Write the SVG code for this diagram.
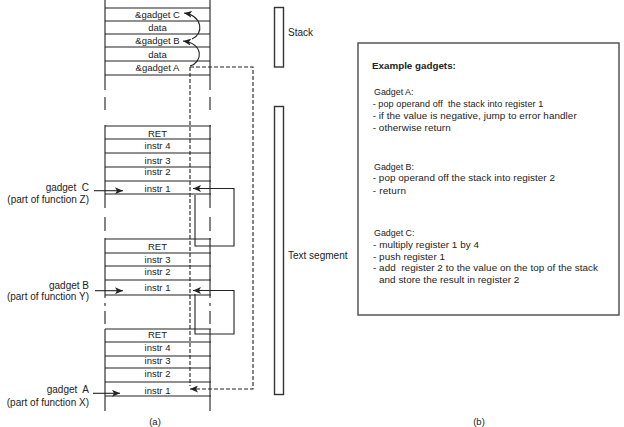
<svg xmlns="http://www.w3.org/2000/svg" width="624" height="427" viewBox="0 0 624 427">
<style>
text{font-family:"Liberation Sans",Arial,sans-serif;fill:#222;white-space:pre;}
.c{font-size:9.5px;text-anchor:middle;}
.l{font-size:10px;text-anchor:end;}
.r{font-size:10px;}
.b{font-size:9.9px;}
.g{font-size:8.9px;}
.bh{font-size:9.8px;font-weight:bold;}
.ln{stroke:#222;stroke-width:1.1;fill:none;}
.row{stroke:#222;stroke-width:1.1;}
.dash{stroke:#222;stroke-width:1.1;fill:none;stroke-dasharray:4 2;}
.bar{fill:#fff;stroke:#333;stroke-width:1.4;}
</style>
<defs>
<marker id="ah" markerUnits="userSpaceOnUse" markerWidth="9" markerHeight="7" refX="8" refY="3.5" orient="auto">
<path d="M0,0 L8,3.5 L0,7 L2,3.5 z" fill="#222"/>
</marker>
</defs>
<rect width="624" height="427" fill="#fff"/>

<g id="stack-column">
<path class="ln" d="M105,0 V90 M210,0 V90 M105,97 V110 M210,97 V110"/>
<path class="row" d="M105,8 H210 M105,21 H210 M105,34 H210 M105,47 H210 M105,61 H210 M105,75 H210"/>
<text class="c" x="157.5" y="18">&amp;gadget C</text>
<text class="c" x="157.5" y="31">data</text>
<text class="c" x="157.5" y="44">&amp;gadget B</text>
<text class="c" x="157.5" y="57.5">data</text>
<text class="c" x="157.5" y="71">&amp;gadget A</text>
</g>

<g id="function-z">
<path class="ln" d="M105,125 V208 M210,125 V208 M105,217 V231 M210,217 V231"/>
<path class="row" d="M105,126 H211 M105,139 H211 M105,153 H211 M105,167 H211 M105,181 H211 M105,194 H211"/>
<text class="c" x="157.5" y="137">RET</text>
<text class="c" x="157.5" y="148.5">instr 4</text>
<text class="c" x="157.5" y="163.5">instr 3</text>
<text class="c" x="157.5" y="175">instr 2</text>
<text class="c" x="157.5" y="191.8">instr 1</text>
</g>

<g id="function-y">
<path class="ln" d="M105,238 V298 M210,238 V298 M105,303 V306 M210,303 V306 M105,311 V324 M210,311 V324"/>
<path class="row" d="M105,239 H211 M105,253 H211 M105,266 H211 M105,280 H211 M105,295 H211"/>
<text class="c" x="157.5" y="250">RET</text>
<text class="c" x="157.5" y="262.8">instr 3</text>
<text class="c" x="157.5" y="275">instr 2</text>
<text class="c" x="157.5" y="291">instr 1</text>
</g>

<g id="function-x">
<path class="ln" d="M105,329 V411 M210,329 V411"/>
<path class="row" d="M105,329 H211 M105,342 H211 M105,356 H211 M105,368 H211 M105,382 H211 M105,396 H211"/>
<text class="c" x="157.5" y="337.5">RET</text>
<text class="c" x="157.5" y="350.8">instr 4</text>
<text class="c" x="157.5" y="363.5">instr 3</text>
<text class="c" x="157.5" y="376.8">instr 2</text>
<text class="c" x="157.5" y="393.5">instr 1</text>
</g>

<g id="label-gadget-c">
<text class="l" x="89" y="190.5">gadget  C</text>
<text class="l" x="89" y="202.5">(part of function Z)</text>
</g>
<g id="label-gadget-b">
<text class="l" x="89" y="288.5">gadget B</text>
<text class="l" x="89" y="299.5">(part of function Y)</text>
</g>
<g id="label-gadget-a">
<text class="l" x="89" y="392.5">gadget  A</text>
<text class="l" x="89" y="405.5">(part of function X)</text>
</g>

<g id="stack-bar">
<rect class="bar" x="274.5" y="7.5" width="9" height="59.5"/>
<text class="r" x="288" y="35.5">Stack</text>
</g>
<g id="text-segment-bar">
<rect class="bar" x="274.5" y="106.5" width="9" height="288"/>
<text class="r" x="288" y="258.5">Text segment</text>
</g>

<g id="example-box">
<rect x="358" y="43" width="261" height="272" fill="#fff" stroke="#555" stroke-width="1.5"/>
<text class="bh" x="372" y="68.5">Example gadgets:</text>
<text class="g" x="374" y="95">Gadget A:</text>
<text class="b" x="372.7" y="106.8" style="font-size:9.1px" textLength="170.6">- pop operand off  the stack into register 1</text>
<text class="b" x="372.7" y="118.5" textLength="204">- if the value is negative, jump to error handler</text>
<text class="b" x="372.7" y="130.8" textLength="78">- otherwise return</text>
<text class="g" x="374" y="169.5">Gadget B:</text>
<text class="b" x="372.7" y="181" textLength="182.3">- pop operand off the stack into register 2</text>
<text class="b" x="372.7" y="193.5" textLength="33.3">- return</text>
<text class="g" x="374" y="235.8">Gadget C:</text>
<text class="b" x="373" y="247.5" textLength="106">- multiply register 1 by 4</text>
<text class="b" x="373" y="259.5" textLength="72">- push register 1</text>
<text class="b" x="373" y="271" textLength="225">- add  register 2 to the value on the top of the stack</text>
<text class="b" x="379" y="282.8" textLength="140.3">and store the result in register 2</text>
</g>

<g id="captions">
<text class="c" x="155" y="424.5">(a)</text>
<text class="c" x="479" y="424.5">(b)</text>
</g>

<g id="connectors">
<path class="ln" d="M94,190.7 H123" marker-end="url(#ah)"/>
<path class="ln" d="M95,290.7 H123" marker-end="url(#ah)"/>
<path class="ln" d="M93,393.3 H120" marker-end="url(#ah)"/>
<path class="ln" d="M190,66 C203,62 204,44 183,41" marker-end="url(#ah)"/>
<path class="ln" d="M192,39 C204,34 203,16 184,13" marker-end="url(#ah)"/>
<path class="ln" d="M195,195 V246 H234 V188.5 H193" marker-end="url(#ah)"/>
<path class="ln" d="M195,294 V334 H234 V290.5 H193" marker-end="url(#ah)"/>
<path class="dash" d="M190,67 V386"/>
<path class="dash" d="M190,67 H253 V389 H190" marker-end="url(#ah)"/>
</g>
</svg>
